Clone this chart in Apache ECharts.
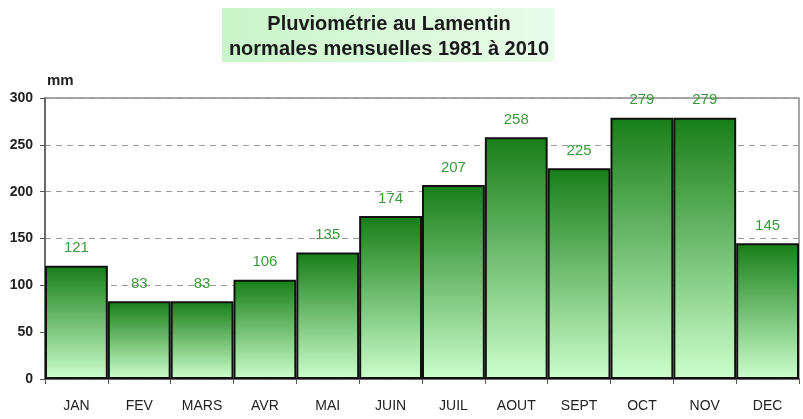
<!DOCTYPE html>
<html>
<head>
<meta charset="utf-8">
<script src="https://cdn.jsdelivr.net/npm/echarts@6/dist/echarts.min.js"></script>
<style>
    html, body { margin: 0; padding: 0; background: #fff; }
    #main { width: 803px; height: 419px; }
</style>
</head>
<body>
<div id="main"></div>
<script>
// mois et normales mensuelles (mm)
var months = ['JAN', 'FEV', 'MARS', 'AVR', 'MAI', 'JUIN', 'JUIL', 'AOUT', 'SEPT', 'OCT', 'NOV', 'DEC']
var rain = [121, 83, 83, 106, 135, 174, 207, 258, 225, 279, 279, 145]

var myChart = echarts.init(document.getElementById('main'))

var option = {
    backgroundColor: '#fff',
    animation: false,
    graphic: [
        {
            type: 'rect',
            shape: { x: 222, y: 8, width: 333, height: 54 },
            style: {
                fill: new echarts.graphic.LinearGradient(0, 0, 1, 0, [
                    { offset: 0, color: '#c8f5c8' },
                    { offset: 1, color: '#eafcea' }
                ])
            },
            z: 0
        },
        {
            type: 'text',
            x: 389,
            y: 12,
            style: {
                text: 'Pluviométrie au Lamentin\nnormales mensuelles 1981 à 2010',
                align: 'center',
                verticalAlign: 'top',
                font: 'bold 20px Arial, "Liberation Sans", sans-serif',
                lineHeight: 25,
                fill: '#1a1a1a'
            },
            z: 1
        },
        {
            type: 'rect',
            shape: { x: 45, y: 98, width: 754, height: 281 },
            style: { fill: 'none', stroke: '#8c8c8c', lineWidth: 1.5 },
            z: 0
        }
    ],
    grid: { left: 45, right: 4, top: 98, bottom: 40 },
    xAxis: {
        type: 'category',
        data: months,
        axisLine: { lineStyle: { color: '#555', width: 1.5 } },
        axisTick: { show: true, length: 5, lineStyle: { color: '#555' } },
        axisLabel: {
            color: '#222',
            fontSize: 14,
            fontFamily: 'Arial, "Liberation Sans", sans-serif',
            margin: 20
        }
    },
    yAxis: {
        type: 'value',
        name: 'mm',
        nameLocation: 'end',
        nameGap: 10,
        nameTextStyle: {
            color: '#222',
            fontWeight: 'bold',
            fontSize: 15,
            fontFamily: 'Arial, "Liberation Sans", sans-serif',
            align: 'left',
            padding: [0, 0, 0, 2]
        },
        min: 0,
        max: 300,
        interval: 50,
        axisLine: { show: true, lineStyle: { color: '#555', width: 1.5 } },
        axisTick: { show: true, length: 5, lineStyle: { color: '#555' } },
        axisLabel: {
            color: '#222',
            fontWeight: 'bold',
            fontSize: 14,
            fontFamily: 'Arial, "Liberation Sans", sans-serif',
            margin: 12
        },
        splitLine: { lineStyle: { color: '#999', type: [6, 5], width: 1 } }
    },
    series: [
        {
            type: 'bar',
            data: rain,
            barCategoryGap: 0,
            itemStyle: {
                color: new echarts.graphic.LinearGradient(0, 0, 0, 1, [
                    { offset: 0, color: '#177e17' },
                    { offset: 1, color: '#ccffcc' }
                ]),
                borderColor: '#111',
                borderWidth: 2
            },
            label: {
                show: true,
                position: 'top',
                distance: 10,
                color: '#3a9a3a',
                fontSize: 15,
                fontFamily: 'Arial, "Liberation Sans", sans-serif'
            },
            z: 2
        }
    ]
}

myChart.setOption(option)
</script>
</body>
</html>
